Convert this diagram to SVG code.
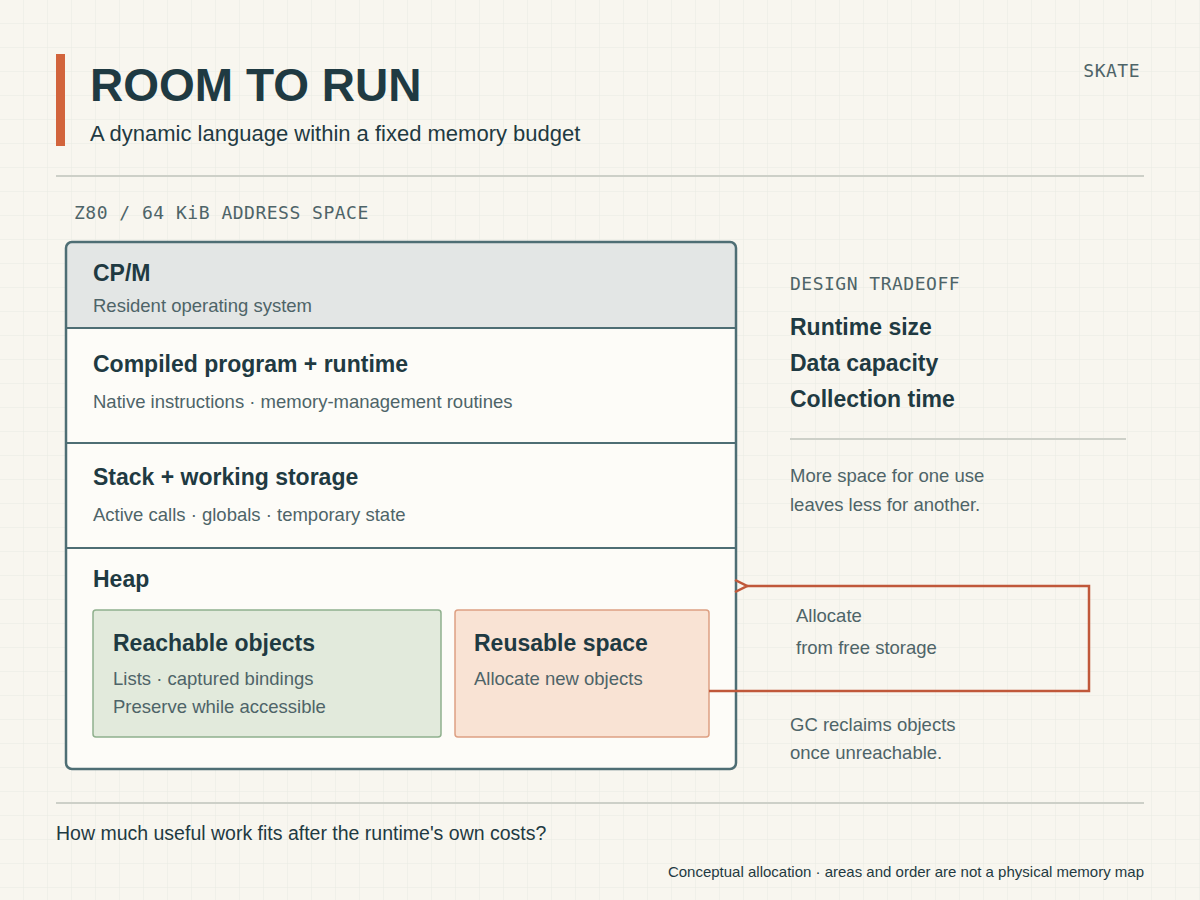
<svg xmlns="http://www.w3.org/2000/svg" width="1200" height="900" viewBox="0 0 1200 900">
<defs>
<pattern id="grid" width="24" height="24" patternUnits="userSpaceOnUse"><path d="M24 0V24M0 24H24" fill="none" stroke="#e9ebe2" stroke-width="1"/></pattern>
<marker id="arr" markerWidth="14" markerHeight="14" refX="1" refY="7" orient="auto" markerUnits="userSpaceOnUse"><path d="M13 1L1 7L13 13" fill="none" stroke="#c0583a" stroke-width="2.5"/></marker>
<clipPath id="mc"><rect x="66" y="242" width="670" height="527" rx="6"/></clipPath>
</defs>
<style>
.t{font-family:"Liberation Sans",Arial,sans-serif;}
.m{font-family:"DejaVu Sans Mono",monospace;fill:#4e6468;font-size:18px;letter-spacing:0.5px}
.h{font-weight:bold;fill:#1f3a42;font-size:23px}
.s{fill:#4e6468;font-size:18.5px}
.rule{stroke:#cdd0c8;stroke-width:2}
</style>
<rect width="1200" height="900" fill="#f8f6ef"/>
<rect width="1200" height="900" fill="url(#grid)"/>
<rect x="56" y="54" width="9" height="92" fill="#d2643c"/>
<text class="t" x="90" y="101" font-size="46" font-weight="bold" fill="#1f3a42">ROOM TO RUN</text>
<text class="t" x="90" y="141" font-size="22" fill="#1f3a42">A dynamic language within a fixed memory budget</text>
<text class="m" x="1140" y="77" text-anchor="end">SKATE</text>
<line class="rule" x1="56" y1="176" x2="1144" y2="176"/>
<text class="m" x="74" y="219">Z80 / 64 KiB ADDRESS SPACE</text>
<g id="memory">
<g clip-path="url(#mc)">
<rect x="66" y="242" width="670" height="527" fill="#fdfcf8"/>
<rect x="66" y="242" width="670" height="86" fill="#e3e6e5"/>
</g>
<g stroke="#4e6e74" stroke-width="2"><line x1="66" y1="328" x2="736" y2="328"/><line x1="66" y1="443" x2="736" y2="443"/><line x1="66" y1="548" x2="736" y2="548"/></g>
<rect x="66" y="242" width="670" height="527" rx="6" fill="none" stroke="#4e6e74" stroke-width="2.5"/>
</g>
<g id="cpm"><text class="t h" x="93" y="281">CP/M</text><text class="t s" x="93" y="312">Resident operating system</text></g>
<g id="program"><text class="t h" x="93" y="372">Compiled program + runtime</text><text class="t s" x="93" y="408">Native instructions · memory-management routines</text></g>
<g id="stack"><text class="t h" x="93" y="485">Stack + working storage</text><text class="t s" x="93" y="521">Active calls · globals · temporary state</text></g>
<g id="heap"><text class="t h" x="93" y="587">Heap</text></g>
<g id="reachable"><rect x="93" y="610" width="348" height="127" rx="3" fill="#e2eadc" stroke="#8fb08d" stroke-width="1.5"/>
<text class="t h" x="113" y="651">Reachable objects</text><text class="t s" x="113" y="685">Lists · captured bindings</text><text class="t s" x="113" y="713">Preserve while accessible</text></g>
<g id="reusable"><rect x="455" y="610" width="254" height="127" rx="3" fill="#f9e3d4" stroke="#dda083" stroke-width="1.5"/>
<text class="t h" x="474" y="651">Reusable space</text><text class="t s" x="474" y="685">Allocate new objects</text></g>
<g id="connectors"><path d="M709 691H1089V586H747" fill="none" stroke="#c0583a" stroke-width="2.5" marker-end="url(#arr)"/></g>
<text class="t s" x="796" y="622">Allocate</text><text class="t s" x="796" y="654">from free storage</text>
<text class="t s" x="790" y="731">GC reclaims objects</text><text class="t s" x="790" y="759">once unreachable.</text>
<g id="tradeoff">
<text class="m" x="790" y="290">DESIGN TRADEOFF</text>
<text class="t h" x="790" y="335">Runtime size</text><text class="t h" x="790" y="371">Data capacity</text><text class="t h" x="790" y="407">Collection time</text>
<line class="rule" x1="790" y1="439" x2="1126" y2="439"/>
<text class="t s" x="790" y="482">More space for one use</text><text class="t s" x="790" y="511">leaves less for another.</text>
</g>
<line class="rule" x1="56" y1="803" x2="1144" y2="803"/>
<text class="t" x="56" y="840" font-size="19.5" fill="#1f3a42">How much useful work fits after the runtime's own costs?</text>
<text class="t" x="1144" y="877" font-size="15" fill="#1f3a42" text-anchor="end">Conceptual allocation · areas and order are not a physical memory map</text>
</svg>
